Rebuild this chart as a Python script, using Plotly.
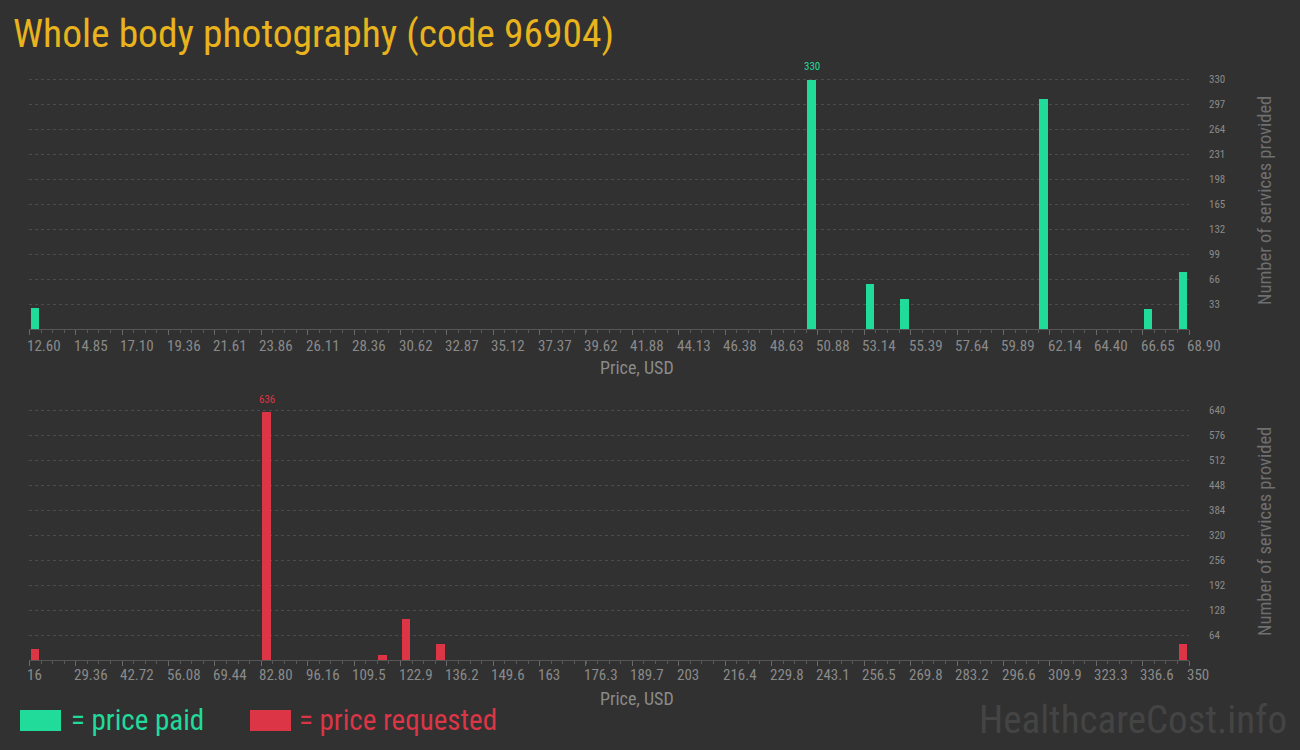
import plotly.graph_objects as go

# ---------------- data ----------------
title_text = "Whole body photography (code 96904)"

paid_prices = [12.88, 50.60, 53.42, 55.11, 61.86, 66.93, 68.62]
paid_counts = [28, 330, 60, 40, 304, 27, 76]
paid_bin_width = 0.563
paid_range = [12.60, 68.90]
paid_tick_labels = ["12.60", "14.85", "17.10", "19.36", "21.61", "23.86", "26.11", "28.36",
                    "30.62", "32.87", "35.12", "37.37", "39.62", "41.88", "44.13", "46.38",
                    "48.63", "50.88", "53.14", "55.39", "57.64", "59.89", "62.14", "64.40",
                    "66.65", "68.90"]
paid_y_ticks = [33, 66, 99, 132, 165, 198, 231, 264, 297, 330]

req_prices = [17.67, 84.47, 117.87, 124.55, 134.57, 348.33]
req_counts = [29, 636, 16, 106, 42, 44]
req_bin_width = 3.34
req_range = [16, 350]
req_tick_labels = ["16", "29.36", "42.72", "56.08", "69.44", "82.80", "96.16", "109.5",
                   "122.9", "136.2", "149.6", "163", "176.3", "189.7", "203", "216.4",
                   "229.8", "243.1", "256.5", "269.8", "283.2", "296.6", "309.9", "323.3",
                   "336.6", "350"]
req_y_ticks = [64, 128, 192, 256, 320, 384, 448, 512, 576, 640]

# ---------------- style ----------------
BG = "#313131"
GREEN = "#21db9a"
RED = "#dc3545"
GOLD = "#e8b31c"
AX_TXT = "#8a8a8a"
GRID = "#4b4b4b"
COND = "Roboto Condensed, Liberation Sans Narrow, Roboto, sans-serif"
NARROW = "Liberation Sans Narrow, Roboto Condensed, sans-serif"

W, H = 1300, 750
x_dom = [29.4 / W, 1189 / W]
top_dom = [1 - 329.3 / H, 1 - 71.7 / H]
bot_dom = [1 - 660.3 / H, 1 - 402.5 / H]

fig = go.Figure()
fig.add_trace(go.Bar(x=paid_prices, y=paid_counts, width=paid_bin_width * 0.73,
                     marker=dict(color=GREEN, line_width=0), xaxis="x", yaxis="y",
                     showlegend=False, hoverinfo="x+y"))
fig.add_trace(go.Bar(x=req_prices, y=req_counts, width=req_bin_width * 0.73,
                     marker=dict(color=RED, line_width=0), xaxis="x2", yaxis="y2",
                     showlegend=False, hoverinfo="x+y"))


def xaxis_cfg(rng, labels, binw, anchor):
    return dict(domain=x_dom, range=rng, anchor=anchor, tickmode="array",
                tickvals=[float(t) for t in labels], ticktext=labels,
                showticklabels=False, ticks="outside", ticklen=5, tickcolor="#6a6a6a",
                showline=True, linecolor="#555555", linewidth=1, showgrid=False,
                zeroline=False, fixedrange=True,
                minor=dict(tick0=rng[0], dtick=binw, ticks="outside", ticklen=3,
                           tickcolor="#5a5a5a", showgrid=False))


def yaxis_cfg(dom, ticks, top, anchor):
    return dict(domain=dom, range=[0, top], anchor=anchor, side="right",
                tickmode="array", tickvals=ticks, ticktext=[str(t) for t in ticks],
                ticks="", showline=False, zeroline=False, showgrid=True,
                gridcolor=GRID, griddash="dot", gridwidth=1,
                tickfont=dict(family=NARROW, size=11, color=AX_TXT),
                ticklabelstandoff=19, fixedrange=True)


fig.update_layout(
    width=W, height=H, paper_bgcolor=BG, plot_bgcolor=BG,
    margin=dict(l=0, r=0, t=0, b=0), bargap=0,
    xaxis=xaxis_cfg(paid_range, paid_tick_labels, paid_bin_width, "y"),
    yaxis=yaxis_cfg(top_dom, paid_y_ticks, 340, "x"),
    xaxis2=xaxis_cfg(req_range, req_tick_labels, req_bin_width, "y2"),
    yaxis2=yaxis_cfg(bot_dom, req_y_ticks, 660, "x2"),
)

ann = []
# title
ann.append(dict(text=title_text, x=11 / W, y=1 - 33 / H, xref="paper", yref="paper",
                xanchor="left", yanchor="middle", showarrow=False,
                font=dict(family=COND, size=39.5, color=GOLD)))

# x tick labels (left aligned at ticks)
for labels, xr, ypix in ((paid_tick_labels, "x", 345.5), (req_tick_labels, "x2", 675)):
    for t in labels:
        ann.append(dict(text=t, x=float(t), xref=xr, y=1 - ypix / H, yref="paper",
                        xanchor="left", yanchor="middle", xshift=-4, showarrow=False,
                        font=dict(family=NARROW, size=15, color=AX_TXT)))

# axis titles
for ypix in (368, 698):
    ann.append(dict(text="Price, USD", x=637 / W, y=1 - ypix / H, xref="paper", yref="paper",
                    xanchor="center", yanchor="middle", showarrow=False,
                    font=dict(family=COND, size=18, color=AX_TXT)))
for ycen in (201, 532):
    ann.append(dict(text="Number of services provided", x=1265 / W, y=1 - ycen / H,
                    xref="paper", yref="paper", xanchor="center", yanchor="middle",
                    textangle=-90, showarrow=False,
                    font=dict(family=COND, size=18.5, color="#6f6f6f")))

# max value labels
for prices, counts, xr, yr, col in ((paid_prices, paid_counts, "x", "y", GREEN),
                                    (req_prices, req_counts, "x2", "y2", RED)):
    i = counts.index(max(counts))
    ann.append(dict(text=str(counts[i]), x=prices[i], y=counts[i], xref=xr, yref=yr,
                    xanchor="center", yanchor="bottom", yshift=4, showarrow=False,
                    font=dict(family=NARROW, size=11, color=col)))

# legend
ann.append(dict(text="= price paid", x=69 / W, y=1 - 720 / H, xref="paper", yref="paper",
                xanchor="left", yanchor="middle", showarrow=False,
                font=dict(family=COND, size=29, color=GREEN)))
ann.append(dict(text="= price requested", x=297 / W, y=1 - 720 / H, xref="paper", yref="paper",
                xanchor="left", yanchor="middle", showarrow=False,
                font=dict(family=COND, size=29, color=RED)))
# watermark
ann.append(dict(text="HealthcareCost.info", x=1289 / W, y=1 - 720 / H, xref="paper", yref="paper",
                xanchor="right", yanchor="middle", showarrow=False,
                font=dict(family=COND, size=39, color="#444444")))

shapes = [
    dict(type="rect", xref="paper", yref="paper", x0=20 / W, x1=61 / W,
         y0=1 - 731 / H, y1=1 - 710 / H, fillcolor=GREEN, line_width=0),
    dict(type="rect", xref="paper", yref="paper", x0=250 / W, x1=291 / W,
         y0=1 - 731 / H, y1=1 - 710 / H, fillcolor=RED, line_width=0),
]

fig.update_layout(annotations=ann, shapes=shapes)
fig.write_html("out.html", config={"displayModeBar": False},
               post_script="document.body.style.margin='0';"
                           "document.body.style.overflow='hidden';")
